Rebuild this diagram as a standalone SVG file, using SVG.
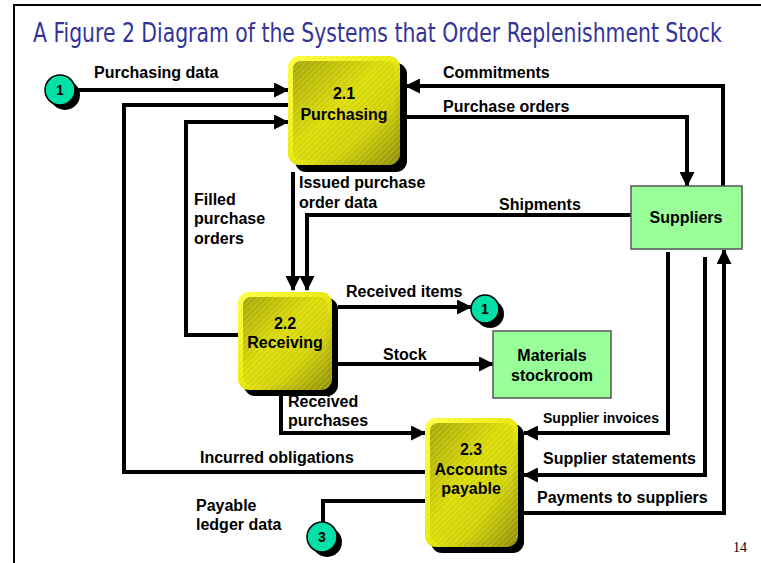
<svg xmlns="http://www.w3.org/2000/svg" width="761" height="563" viewBox="0 0 761 563">
<defs>
<style>
.lbl{font-family:"Liberation Sans",Arial,sans-serif;font-weight:bold;font-size:16px;fill:#000}
.sm{font-size:14px}
.ptxt{font-family:"Liberation Sans",Arial,sans-serif;font-weight:bold;font-size:16px;fill:#000;text-anchor:middle}
.ctxt{font-family:"Liberation Sans",Arial,sans-serif;font-weight:bold;font-size:14px;fill:#000;text-anchor:middle}
.conn{fill:none;stroke:#000;stroke-width:4;stroke-linejoin:miter}
.arr{marker-end:url(#ah)}
.ext{fill:#99ff99;stroke:#555;stroke-width:1.5}
.shadow{fill:#000}
.rim{fill:url(#rimGrad)}
.body{fill:url(#bodyGrad)}
.hatch{fill:url(#hatch)}
.circ{fill:#00e0a8;stroke:#000;stroke-width:1.5}
</style>
<marker id="ah" viewBox="0 0 14 14" refX="13" refY="7" markerWidth="15" markerHeight="15" markerUnits="userSpaceOnUse" orient="auto">
<path d="M0,0 L14,7 L0,14 z" fill="#000"/>
</marker>
<linearGradient id="rimGrad" x1="0" y1="0" x2="1" y2="1">
<stop offset="0" stop-color="#ffff40"/>
<stop offset="0.5" stop-color="#e8e800"/>
<stop offset="1" stop-color="#8c8c00"/>
</linearGradient>
<linearGradient id="bodyGrad" x1="0" y1="0" x2="1" y2="1">
<stop offset="0" stop-color="#a4a400"/>
<stop offset="0.45" stop-color="#dada00"/>
<stop offset="0.7" stop-color="#d0d000"/>
<stop offset="1" stop-color="#959500"/>
</linearGradient>
<pattern id="hatch" width="4" height="4" patternUnits="userSpaceOnUse" patternTransform="rotate(-45)">
<rect width="4" height="1.2" fill="#ffffff" fill-opacity="0.22"/>
</pattern>
</defs>
<rect width="761" height="563" fill="#fff"/>
<path d="M14,563 V5 H761" fill="none" stroke="#000" stroke-width="2"/>
<text transform="scale(0.8,1)" x="41.25" y="42" font-family="'DejaVu Sans Condensed','Liberation Sans',sans-serif" font-size="26" fill="#333399" textLength="861" lengthAdjust="spacingAndGlyphs">A Figure 2 Diagram of the Systems that Order Replenishment Stock</text>

<g id="connectors">
<path class="conn arr" d="M75,90 H288"/>
<path class="conn" d="M425,472 H124 V105 H288"/>
<path class="conn arr" d="M238,335 H186 V122 H288"/>
<path class="conn arr" d="M723,186 V86 H406"/>
<path class="conn arr" d="M407,117 H687 V186"/>
<path class="conn arr" d="M631,215 H307 V290"/>
<path class="conn arr" d="M293,172 V290"/>
<path class="conn arr" d="M338,307 H471"/>
<path class="conn arr" d="M338,364 H493"/>
<path class="conn arr" d="M281,396 V433 H425"/>
<path class="conn arr" d="M668,252 V433 H524"/>
<path class="conn arr" d="M705,257 V475 H524"/>
<path class="conn arr" d="M524,513 H724 V250"/>
<path class="conn" d="M425,501 H323 V522"/>
</g>

<g id="p21">
<rect class="shadow" x="295" y="63" width="112" height="109" rx="11"/>
<rect class="rim" x="288" y="56" width="112" height="109" rx="11"/>
<rect class="body" x="293" y="61" width="102" height="99" rx="8"/>
<rect class="hatch" x="288" y="56" width="112" height="109" rx="11"/>
<text class="ptxt" x="344" y="99">2.1</text>
<text class="ptxt" x="344" y="120">Purchasing</text>
</g>

<g id="p22">
<rect class="shadow" x="244" y="298" width="94" height="98" rx="11"/>
<rect class="rim" x="238" y="292" width="94" height="98" rx="11"/>
<rect class="body" x="243" y="297" width="84" height="88" rx="8"/>
<rect class="hatch" x="238" y="292" width="94" height="98" rx="11"/>
<text class="ptxt" x="285" y="329">2.2</text>
<text class="ptxt" x="285" y="348">Receiving</text>
</g>

<g id="p23">
<rect class="shadow" x="431" y="424" width="93" height="129" rx="11"/>
<rect class="rim" x="425" y="418" width="93" height="129" rx="11"/>
<rect class="body" x="430" y="423" width="83" height="119" rx="8"/>
<rect class="hatch" x="425" y="418" width="93" height="129" rx="11"/>
<text class="ptxt" x="471" y="455">2.3</text>
<text class="ptxt" x="471" y="475">Accounts</text>
<text class="ptxt" x="471" y="494">payable</text>
</g>

<g id="suppliers">
<rect class="ext" x="631" y="186" width="111" height="63"/>
<text class="ptxt" x="686" y="223">Suppliers</text>
</g>

<g id="stockroom">
<rect class="ext" x="493" y="331" width="118" height="67"/>
<text class="ptxt" x="552" y="361">Materials</text>
<text class="ptxt" x="552" y="381">stockroom</text>
</g>

<g id="c1a">
<circle class="shadow" cx="65" cy="95" r="15"/>
<circle class="circ" cx="60" cy="90" r="15"/>
<text class="ctxt" x="60" y="95">1</text>
</g>

<g id="c1b">
<circle class="shadow" cx="490" cy="314" r="14"/>
<circle class="circ" cx="485" cy="309" r="14"/>
<text class="ctxt" x="485" y="314">1</text>
</g>

<g id="c3">
<circle class="shadow" cx="327" cy="542" r="15"/>
<circle class="circ" cx="322" cy="537" r="15"/>
<text class="ctxt" x="322" y="542">3</text>
</g>

<g id="labels">
<text class="lbl" x="94" y="78">Purchasing data</text>
<text class="lbl" x="443" y="78">Commitments</text>
<text class="lbl" x="443" y="112">Purchase orders</text>
<text class="lbl" x="499" y="210">Shipments</text>
<text class="lbl" x="299" y="188">Issued purchase</text>
<text class="lbl" x="299" y="208">order data</text>
<text class="lbl" x="194" y="205">Filled</text>
<text class="lbl" x="194" y="224">purchase</text>
<text class="lbl" x="194" y="244">orders</text>
<text class="lbl" x="346" y="297">Received items</text>
<text class="lbl" x="383" y="360">Stock</text>
<text class="lbl" x="288" y="407">Received</text>
<text class="lbl" x="288" y="426">purchases</text>
<text class="lbl" x="200" y="463">Incurred obligations</text>
<text class="lbl" x="196" y="511">Payable</text>
<text class="lbl" x="196" y="530">ledger data</text>
<text class="lbl sm" x="543" y="423">Supplier invoices</text>
<text class="lbl" x="543" y="464">Supplier statements</text>
<text class="lbl" x="537" y="503">Payments to suppliers</text>
<text x="733" y="552" font-family="'Liberation Serif','Times New Roman',serif" font-size="14" fill="#000">14</text>
</g>
</svg>
